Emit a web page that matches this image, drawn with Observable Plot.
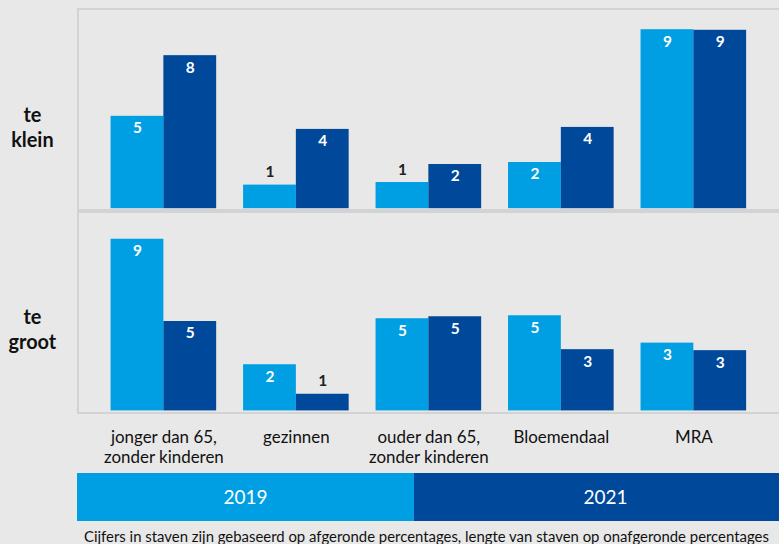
<!DOCTYPE html>
<html>
<head>
<meta charset="utf-8">
<script src="https://cdn.jsdelivr.net/npm/d3@7"></script>
<script src="https://cdn.jsdelivr.net/npm/@observablehq/plot@0.6"></script>
<style>
  html, body { margin: 0; padding: 0; background: #e8e8e8; width: 779px; height: 544px; overflow: hidden; font-family: Lato, "Open Sans", sans-serif; }
  #wrap { position: relative; width: 779px; height: 472px; }
  #wrap svg { position: absolute; left: 0; top: 0; background: transparent; overflow: visible; }
  .panel { position: absolute; box-sizing: border-box; border-top: 2px solid #d3d3d3; border-left: 2px solid #d3d3d3; border-bottom: 2px solid #d3d3d3; }
  #legend { position: absolute; top: 473px; left: 77px; height: 48px; width: 720px; display: flex; }
  #legend div { height: 48px; line-height: 48px; text-align: center; color: #fff; font-size: 19px; }
  #caption { position: absolute; top: 527px; left: 84px; font-size: 14.9px; color: #111; white-space: nowrap; }
</style>
</head>
<body>
<div id="wrap"></div>
<div id="legend"></div>
<div id="caption">Cijfers in staven zijn gebaseerd op afgeronde percentages, lengte van staven op onafgeronde percentages</div>
<script>
// ---- data ----
const categories = ["jonger dan 65,\nzonder kinderen", "gezinnen", "ouder dan 65,\nzonder kinderen", "Bloemendaal", "MRA"];
const rows = ["te klein", "te groot"];
const years = ["2019", "2021"];
const colors = ["#009fe3", "#00489a"];

// unrounded bar lengths (%)
const klein2019 = [4.66, 1.19, 1.32, 2.33, 9.03];
const klein2021 = [7.72, 4.0, 2.23, 4.1, 9.0];
const groot2019 = [8.66, 2.33, 4.65, 4.8, 3.42];
const groot2021 = [4.51, 0.84, 4.75, 3.09, 3.04];
// rounded labels
const kleinLabel2019 = [5, 1, 1, 2, 9];
const kleinLabel2021 = [8, 4, 2, 4, 9];
const grootLabel2019 = [9, 2, 5, 5, 3];
const grootLabel2021 = [5, 1, 5, 3, 3];

const series = [
  {row: "te klein", year: "2019", values: klein2019, labels: kleinLabel2019},
  {row: "te klein", year: "2021", values: klein2021, labels: kleinLabel2021},
  {row: "te groot", year: "2019", values: groot2019, labels: grootLabel2019},
  {row: "te groot", year: "2021", values: groot2021, labels: grootLabel2021}
];
const data = series.flatMap(s => categories.map((c, i) => ({
  cat: c, row: s.row, year: s.year, value: s.values[i], label: s.labels[i]
})));

const font = "Lato, 'Open Sans', sans-serif";

const plot = Plot.plot({
  width: 782,
  height: 472,
  marginLeft: 79,
  marginRight: 0,
  marginTop: 10,
  marginBottom: 60,
  style: {background: "transparent", fontFamily: font, overflow: "visible"},
  fx: {domain: categories, paddingInner: 0.203, paddingOuter: 0.24, label: null},
  fy: {domain: rows, paddingInner: 0.02, paddingOuter: 0, label: null},
  x: {domain: years, padding: 0, axis: null},
  y: {domain: [0, 10], axis: null},
  color: {domain: years, range: colors},
  marks: [
    Plot.barY(data, {fx: "cat", fy: "row", x: "year", y: "value", fill: "year"}),
    Plot.text(data.filter(d => d.label >= 2), {
      fx: "cat", fy: "row", x: "year", y: "value", text: d => String(d.label),
      dy: 12, fill: "white", fontSize: 15.5, fontWeight: "bold"
    }),
    Plot.text(data.filter(d => d.label < 2), {
      fx: "cat", fy: "row", x: "year", y: "value", text: d => String(d.label),
      dy: -13, fill: "#222", fontSize: 15.5, fontWeight: "bold"
    }),
    Plot.axisFx({anchor: "bottom", tickSize: 0, tickPadding: 17, fontSize: 17, lineHeight: 1.22, label: null, fill: "#111"}),
    Plot.axisFy({anchor: "left", tickSize: 0, tickPadding: 79, textAnchor: "middle", fontSize: 20, fontWeight: "bold", lineHeight: 1.25, dy: 17, label: null, fill: "#111",
      tickFormat: d => d.replace(" ", "\n")})
  ]
});

const wrap = document.getElementById("wrap");
// panel frames derived from the fy scale
const fyScale = plot.scale("fy");
const fxScale = plot.scale("fx");
const left = fxScale.range[0];
for (const r of rows) {
  const top = fyScale.apply(r);
  const p = document.createElement("div");
  p.className = "panel";
  p.style.left = (left - 2) + "px";
  p.style.top = (top - 2) + "px";
  p.style.width = (779 - left + 20) + "px";
  p.style.height = (fyScale.bandwidth + 4) + "px";
  wrap.appendChild(p);
}
wrap.appendChild(plot);

// legend
const legend = document.getElementById("legend");
const legendWidths = [337, 383];
years.forEach((y, i) => {
  const d = document.createElement("div");
  d.style.background = colors[i];
  d.style.width = legendWidths[i] + "px";
  d.textContent = y;
  legend.appendChild(d);
});
</script>
</body>
</html>
